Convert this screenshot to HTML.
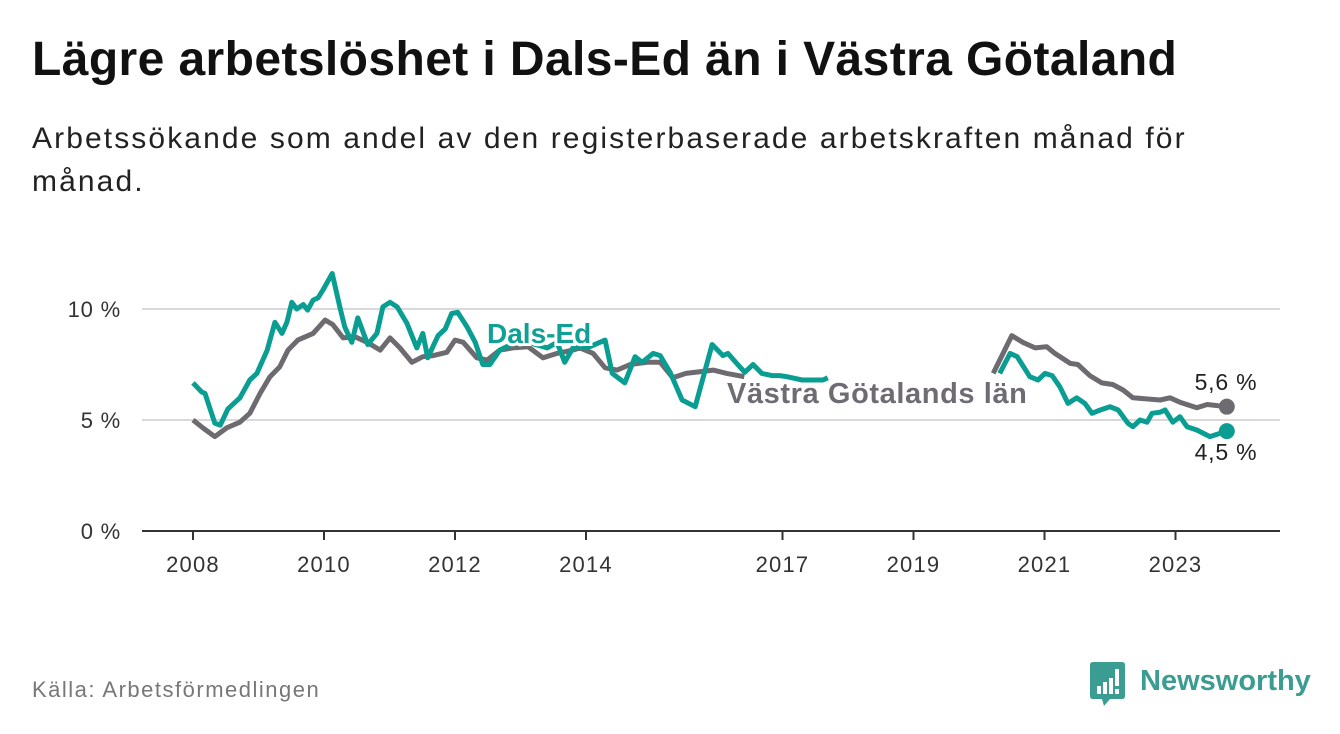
<!DOCTYPE html>
<html><head><meta charset="utf-8">
<style>
body{margin:0;background:#fff;width:1340px;height:734px;overflow:hidden;font-family:"Liberation Sans","DejaVu Sans",sans-serif;}
#title{position:absolute;left:32px;top:32px;font-size:48px;font-weight:bold;color:#111;margin:0;letter-spacing:0.4px}
#sub{position:absolute;left:32px;top:117px;width:1220px;font-size:30px;line-height:43px;color:#222;margin:0;letter-spacing:2.1px}
#src{position:absolute;left:32px;top:677px;font-size:22px;color:#777;letter-spacing:1.5px}
svg{position:absolute;left:0;top:0}
</style></head><body>
<h1 id="title">Lägre arbetslöshet i Dals-Ed än i Västra Götaland</h1>
<p id="sub">Arbetssökande som andel av den registerbaserade arbetskraften månad för månad.</p>
<div id="src">Källa: Arbetsförmedlingen</div>
<svg id="chart" width="1340" height="734"></svg>
<script>
const yTicks=[0,5,10];
const yTickLabels=["0 %","5 %","10 %"];
const xTickYears=[2008,2010,2012,2014,2017,2019,2021,2023];
// months since Jan 2008
const tealMonths=[0,1.6,2.2,4,5,6.4,8.6,10.4,11.7,13.6,15,16.3,17.2,18.1,19,20.2,21,22,22.9,23.8,25.5,26.9,27.8,29.1,30.2,32,33.7,34.8,36.1,37.4,39.2,41,42.1,43,44.9,46.2,47.4,48.5,50.2,51.7,53.1,54.4,56.2,59.9,62.7,64.9,66.7,68.1,69.6,72.7,75.5,76.8,79.1,81,82.3,84.3,85.6,87.4,89.6,92,95.1,97.1,98,99.8,101.1,102.6,104.2,106.1,107.5,108.8,111.6,115.4,116.3,130,147.8,149.7,151,153.3,154.8,156.1,157.4,158.8,160.3,161.9,163.4,164.7,166.2,168,169.5,171.3,172.2,173.5,174.8,175.7,177.2,178.1,179.5,180.8,182.1,183.9,186.3,189.4];
const tealValues=[6.67,6.26,6.2,4.86,4.77,5.5,6.0,6.8,7.1,8.15,9.4,8.9,9.4,10.3,10.0,10.2,9.95,10.4,10.5,10.85,11.6,10.1,9.2,8.5,9.6,8.4,8.9,10.1,10.3,10.1,9.35,8.25,8.9,7.8,8.8,9.1,9.8,9.85,9.2,8.5,7.5,7.5,8.15,8.6,8.4,8.25,8.5,7.6,8.25,8.3,8.6,7.1,6.67,7.85,7.6,8.0,7.9,7.15,5.9,5.6,8.4,7.9,8.0,7.5,7.15,7.5,7.1,7.0,7.0,6.95,6.8,6.8,6.9,null,7.1,8.0,7.85,6.95,6.8,7.1,7.0,6.5,5.75,6.0,5.75,5.3,5.45,5.6,5.45,4.85,4.7,5.0,4.9,5.3,5.35,5.45,4.9,5.15,4.7,4.55,4.25,4.5];
const grayMonths=[0,1.8,4,6.2,8.6,10.4,12.3,14.1,15.9,17.4,19.2,22,24.2,25.6,27.5,29.7,31.9,34.3,36.1,37.9,40.1,42.1,44,46.5,48,49.5,52,53.9,56.2,58.6,61.4,64.1,66.7,69.6,70.9,73.3,75.5,77.7,80.1,83.2,85.6,87.9,90.3,95.3,97.8,101,130,146.6,150,152,154.3,156.4,157.9,160.7,162.1,164.3,166.5,168.5,170.4,172.2,177.2,179,180.8,183.9,185.8,189.4];
const grayValues=[5.0,4.65,4.25,4.65,4.9,5.3,6.2,6.95,7.4,8.15,8.6,8.9,9.5,9.3,8.7,8.75,8.5,8.15,8.7,8.25,7.6,7.85,7.9,8.05,8.6,8.5,7.8,7.7,8.15,8.25,8.3,7.8,8.0,8.15,8.25,8.0,7.35,7.25,7.5,7.6,7.6,6.9,7.1,7.25,7.1,6.95,null,7.1,8.8,8.5,8.25,8.3,8.0,7.55,7.5,7.0,6.67,6.6,6.35,6.0,5.9,6.0,5.8,5.55,5.7,5.6];

const NS="http://www.w3.org/2000/svg";
const svg=document.getElementById('chart');
const x=m=>193+m*65.5/12;
const xYear=yr=>x((yr-2008)*12);
const y=v=>531-v*22.2;
function mk(tag,attrs,parent){const e=document.createElementNS(NS,tag);for(const k in attrs)e.setAttribute(k,attrs[k]);(parent||svg).appendChild(e);return e;}

yTicks.forEach((t,i)=>{
  if(t>0){const g=mk('line',{x1:142,x2:1280,y1:y(t),y2:y(t),stroke:'#d9d9d9','stroke-width':2});
  
  }
  const l=mk('text',{x:121,y:y(t)+8,'text-anchor':'end','font-size':22,fill:'#333','letter-spacing':0.8});
  l.textContent=yTickLabels[i];
  
  
});
const ax=mk('line',{x1:142,x2:1280,y1:531,y2:531,stroke:'#333','stroke-width':2});


xTickYears.forEach(yr=>{
  const tk=mk('line',{x1:xYear(yr),x2:xYear(yr),y1:531,y2:540,stroke:'#333','stroke-width':2});
  
  
  const l=mk('text',{x:xYear(yr),y:572,'text-anchor':'middle','font-size':22,fill:'#333','letter-spacing':1.2});
  l.textContent=yr;
  
  
});
function path(ms,vs){let d='',pen=false;ms.forEach((m,i)=>{const v=vs[i];if(v==null){pen=false;return;}d+=(pen?'L':'M')+x(m).toFixed(1)+' '+y(v).toFixed(1)+' ';pen=true;});return d;}
const gl=mk('path',{d:path(grayMonths,grayValues),fill:'none',stroke:'#6d6b70','stroke-width':5,'stroke-linejoin':'round'});


const tl=mk('path',{d:path(tealMonths,tealValues),fill:'none',stroke:'#0a9e92','stroke-width':5,'stroke-linejoin':'round'});


const gLast=grayValues.length-1,tLast=tealValues.length-1;
const gd=mk('circle',{cx:x(grayMonths[gLast]),cy:y(grayValues[gLast]),r:8,fill:'#6d6b70'});


const td=mk('circle',{cx:x(tealMonths[tLast]),cy:y(tealValues[tLast]),r:8,fill:'#0a9e92'});


const gv=mk('text',{x:1226,y:390,'text-anchor':'middle','font-size':23,fill:'#222','letter-spacing':0.8});
gv.textContent=grayValues[gLast].toFixed(1).replace('.',',')+' %';


const tv=mk('text',{x:1226,y:460,'text-anchor':'middle','font-size':23,fill:'#222','letter-spacing':0.8});
tv.textContent=tealValues[tLast].toFixed(1).replace('.',',')+' %';


const sl=mk('text',{x:487,y:343,'font-size':28,'font-weight':'bold',fill:'#0fa195',stroke:'#fff','stroke-width':6,'paint-order':'stroke'});
sl.textContent='Dals-Ed';


const gl2=mk('text',{x:727,y:403,'font-size':29,'font-weight':'bold',fill:'#6e6c72',stroke:'#fff','stroke-width':6,'paint-order':'stroke','letter-spacing':0.6});
gl2.textContent='Västra Götalands län';


</script>
<svg width="230" height="60" style="left:1088px;top:660px">
<path d="M2 5 Q2 2 5 2 H34 Q37 2 37 5 V36 Q37 39 34 39 H22 L16 46 L14 39 H5 Q2 39 2 36 Z" fill="#3b9c91"/>
<rect x="9" y="26" width="4" height="8" fill="#fff"/><rect x="15" y="22" width="4" height="12" fill="#fff"/><rect x="21" y="18" width="4" height="16" fill="#fff"/><rect x="27" y="9" width="4" height="17" fill="#fff"/><rect x="27" y="29" width="4" height="5" fill="#fff"/>
<text x="52" y="30" font-size="29" font-weight="bold" fill="#3b9c91" font-family="Liberation Sans, sans-serif">Newsworthy</text>
</svg>
</body></html>
